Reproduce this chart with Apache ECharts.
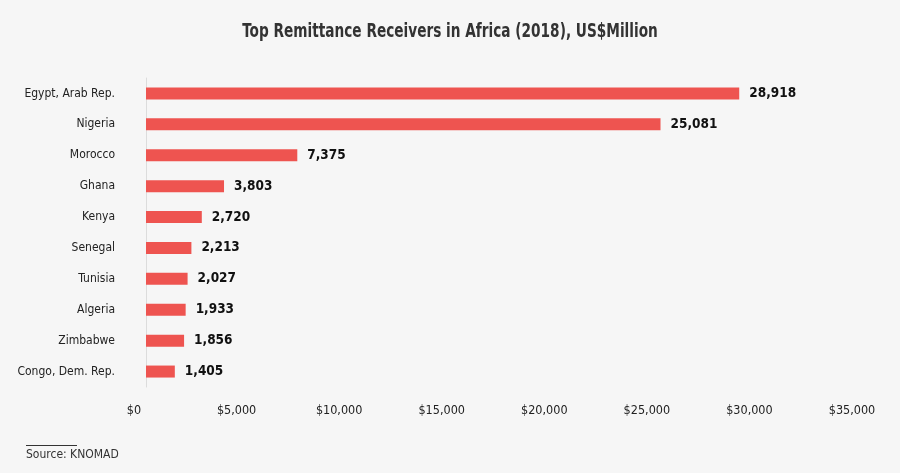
<!DOCTYPE html>
<html>
<head>
<meta charset="utf-8">
<script src="https://cdn.jsdelivr.net/npm/echarts@6/dist/echarts.min.js"></script>
<style>
  html, body { margin: 0; padding: 0; background: #f6f6f6; }
  #main { width: 900px; height: 473px; }
</style>
</head>
<body>
<div id="main"></div>
<script>
(function(){
    var myChart = echarts.init(document.getElementById('main'));

    // countries, top to bottom
    var countries = ['Egypt, Arab Rep.', 'Nigeria', 'Morocco', 'Ghana', 'Kenya',
        'Senegal', 'Tunisia', 'Algeria', 'Zimbabwe', 'Congo, Dem. Rep.'];
    // remittances received, US$ million
    var remittances = [28918, 25081, 7375, 3803, 2720, 2213, 2027, 1933, 1856, 1405];
    var xTicks = [0, 5000, 10000, 15000, 20000, 25000, 30000, 35000];

    var font = '"Liberation Sans Narrow", "DejaVu Sans Condensed", Arial, sans-serif';

    var option = {
        backgroundColor: '#f6f6f6',
        grid: {
            left: 146,
            right: 36,
            top: 78,
            bottom: 86
        },
        xAxis: {
            type: 'value',
            min: xTicks[0],
            max: xTicks[xTicks.length - 1],
            interval: 5000,
            splitLine: { show: false },
            axisLine: { show: false },
            axisTick: { show: false },
            axisLabel: {
                margin: 17,
                fontFamily: font,
                fontSize: 12.5,
                color: '#222',
                padding: [0, 24, 0, 0],
                formatter: function (v) {
                    return '$' + v.toLocaleString('en-US');
                }
            }
        },
        yAxis: {
            type: 'category',
            inverse: true,
            data: countries,
            axisLine: { show: true, lineStyle: { color: '#dcdcdc', width: 1 } },
            axisTick: { show: false },
            axisLabel: {
                margin: 31,
                fontFamily: font,
                fontSize: 12,
                color: '#222'
            }
        },
        series: [
            {
                name: 'Remittances',
                type: 'bar',
                data: remittances,
                barWidth: 12,
                itemStyle: { color: '#ee5450' },
                label: {
                    show: true,
                    position: 'right',
                    distance: 10,
                    fontFamily: font,
                    fontSize: 13.5,
                    fontWeight: 'bold',
                    color: '#111',
                    formatter: function (p) {
                        return p.value.toLocaleString('en-US');
                    }
                }
            }
        ],
        graphic: [
            {
                // title, narrowed to look like the condensed face of the original
                type: 'text',
                x: 450,
                y: 32,
                scaleX: 0.8,
                style: {
                    text: 'Top Remittance Receivers in Africa (2018), US$Million',
                    x: 0,
                    y: 0,
                    align: 'center',
                    verticalAlign: 'middle',
                    fontFamily: font,
                    fontSize: 19,
                    fontWeight: 'bold',
                    fill: '#333'
                }
            },
            {
                type: 'line',
                shape: { x1: 26, y1: 445.5, x2: 77, y2: 445.5 },
                style: { stroke: '#333', lineWidth: 1 }
            },
            {
                type: 'text',
                left: 26,
                top: 449,
                style: {
                    text: 'Source: KNOMAD',
                    fontFamily: font,
                    fontSize: 12,
                    fill: '#333'
                }
            }
        ]
    };
    myChart.setOption(option);
})();
</script>
</body>
</html>
